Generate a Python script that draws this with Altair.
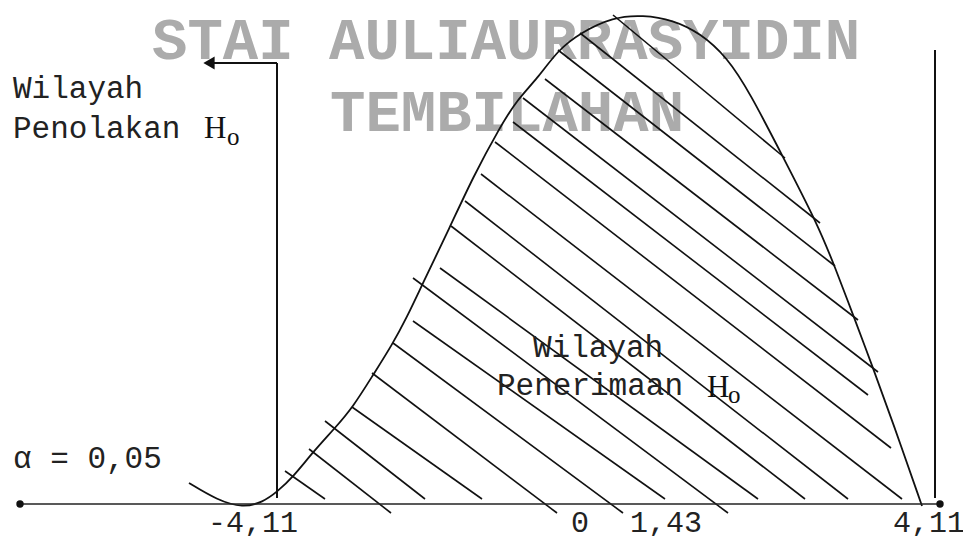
import altair as alt
import pandas as pd

# ---- diagram coordinates (x: horizontal position, y: height above the base line) ----
curve_x = [189, 217, 243, 263, 277, 293, 313, 335, 353, 373, 392, 407, 422, 450, 473, 500, 517, 537,
           558, 580, 613, 643, 673, 700, 727, 750, 783, 817, 835, 855, 873, 892, 922]
curve_y = [21, 4, -4, 2, 12, 27, 52, 76, 97, 129, 159, 187, 219, 277, 327, 377, 404, 425,
           454, 471, 487, 489, 484, 471, 447, 411, 347, 281, 237, 184, 136, 84, -2]

hatch_x1 = [285, 309, 325, 352, 372, 393, 413, 413, 440, 451, 465, 481, 495, 513, 523, 545, 558, 580, 613]
hatch_y1 = [33, 55, 83, 97, 131, 161, 183, 226, 236, 278, 303, 330, 362, 382, 406, 425, 454, 471, 489]
hatch_x2 = [325, 391, 425, 482, 557, 623, 665, 728, 758, 805, 848, 902, 891, 868, 878, 858, 835, 820, 785]
hatch_y2 = [5, -9, 5, 5, -9, -9, 5, -9, 5, 5, 5, 5, 56, 109, 132, 184, 238, 281, 346]

# vertical markers: left (critical value line with arrow), right
vline_x = [277, 935]
vline_y1 = [6, 6]
vline_y2 = [441, 454]
arrow_x = [277, 214]
arrow_y = [441, 441]
arrow_head = [209]

axis_x = [20, 940]
axis_y = [0, 0]

tick_labels = ["-4,11", "0", "1,43", "4,11"]
tick_x = [253, 580, 666, 929]
tick_y = [-28, -28, -28, -28]

mono_texts = ["Wilayah", "Penolakan", "\u03b1 = 0,05", "Wilayah", "Penerimaan"]
mono_x = [13, 13, 13, 533, 497]
mono_y = [406, 366, 36, 147, 109]

h_x = [204, 707]
h_y = [366, 107]
o_x = [227, 728]
o_y = [359, 101]

wm_texts = ["STAI AULIAURRASYIDIN", "TEMBILAHAN"]
wm_x = [152, 330]
wm_y = [445, 373]

# ---- scales ----
XS = alt.Scale(domain=[8, 963], nice=False, zero=False)
YS = alt.Scale(domain=[-32, 496], nice=False, zero=False)


def X(f="x"):
    return alt.X(f"{f}:Q", scale=XS, axis=None)


def Y(f="y"):
    return alt.Y(f"{f}:Q", scale=YS, axis=None)


INK = "#111111"

wm = alt.Chart(pd.DataFrame({"x": wm_x, "y": wm_y, "t": wm_texts})).mark_text(
    align="left", baseline="alphabetic", font="Liberation Mono", fontSize=59,
    fontWeight="bold", color="#ababab"
).encode(x=X(), y=Y(), text="t:N")

curve = alt.Chart(pd.DataFrame({"x": curve_x, "y": curve_y, "i": range(len(curve_x))})).mark_line(
    color=INK, strokeWidth=1.8, interpolate="basis"
).encode(x=X(), y=Y(), order="i:Q")

hatch = alt.Chart(pd.DataFrame({"x": hatch_x1, "y": hatch_y1, "x2": hatch_x2, "y2": hatch_y2})).mark_rule(
    color=INK, strokeWidth=1.6
).encode(x=X(), y=Y(), x2="x2:Q", y2="y2:Q")

vlines = alt.Chart(pd.DataFrame({"x": vline_x, "y": vline_y1, "y2": vline_y2})).mark_rule(
    color=INK, strokeWidth=2
).encode(x=X(), y=Y(), y2="y2:Q")

arrow = alt.Chart(pd.DataFrame({"x": [arrow_x[0]], "x2": [arrow_x[1]], "y": [arrow_y[0]]})).mark_rule(
    color=INK, strokeWidth=2
).encode(x=X(), x2="x2:Q", y=Y())

head = alt.Chart(pd.DataFrame({"x": arrow_head, "y": [arrow_y[0]]})).mark_point(
    shape="triangle-left", filled=True, size=170, color=INK, opacity=1
).encode(x=X(), y=Y())

axis = alt.Chart(pd.DataFrame({"x": [axis_x[0]], "x2": [axis_x[1]], "y": [axis_y[0]]})).mark_rule(
    color="#222222", strokeWidth=1.6
).encode(x=X(), x2="x2:Q", y=Y())

dots = alt.Chart(pd.DataFrame({"x": axis_x, "y": axis_y})).mark_circle(
    size=55, color=INK, opacity=1
).encode(x=X(), y=Y())

ticks = alt.Chart(pd.DataFrame({"x": tick_x, "y": tick_y, "t": tick_labels})).mark_text(
    align="center", baseline="alphabetic", font="Liberation Mono", fontSize=30, color="#222222"
).encode(x=X(), y=Y(), text="t:N")

mono = alt.Chart(pd.DataFrame({"x": mono_x, "y": mono_y, "t": mono_texts})).mark_text(
    align="left", baseline="alphabetic", font="Liberation Mono", fontSize=31, color="#222222"
).encode(x=X(), y=Y(), text="t:N")

hs = alt.Chart(pd.DataFrame({"x": h_x, "y": h_y, "t": ["H", "H"]})).mark_text(
    align="left", baseline="alphabetic", font="Liberation Serif", fontSize=31, color=INK
).encode(x=X(), y=Y(), text="t:N")

os_ = alt.Chart(pd.DataFrame({"x": o_x, "y": o_y, "t": ["o", "o"]})).mark_text(
    align="left", baseline="alphabetic", font="Liberation Serif", fontSize=25, color=INK
).encode(x=X(), y=Y(), text="t:N")

chart = alt.layer(wm, hatch, curve, vlines, arrow, head, axis, dots, ticks, mono, hs, os_).properties(
    width=955, height=528, autosize="none", background="white", padding=0
).configure_view(stroke=None)

chart.save("out.html", embed_options={"renderer": "svg", "actions": False})
